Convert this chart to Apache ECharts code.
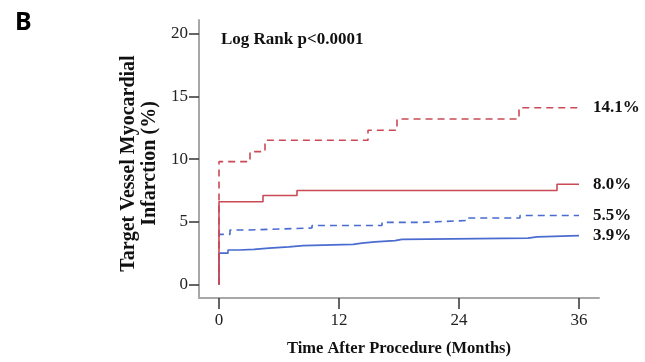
<!DOCTYPE html>
<html>
<head>
<meta charset="utf-8">
<script src="https://cdn.jsdelivr.net/npm/echarts@6/dist/echarts.min.js"></script>
<style>
  html, body {margin: 0; padding: 0; background: #fff;}
  #chart {width: 645px; height: 362px;}
</style>
</head>
<body>
<div id="chart"></div>
<script>
// Kaplan-Meier style cumulative curves (months, %)
var redDashedT = [0, 0, 3.1, 4.6, 14.9, 17.8, 30.0, 36];
var redDashedV = [0, 9.8, 10.6, 11.5, 12.3, 13.2, 14.1, 14.1];

var redSolidT = [0, 0, 4.4, 7.8, 33.8, 36];
var redSolidV = [0, 6.6, 7.1, 7.5, 8.0, 8.0];

var blueDashedT = [0, 0, 1.1, 3.0, 9.3, 16.3, 20.2, 24.7, 30.1, 36];
var blueDashedV = [0, 4.0, 4.35, 4.5, 4.7, 4.95, 5.1, 5.3, 5.5, 5.5];

var blueSolidT = [0, 0, 0.9, 2, 3.5, 5, 7, 8.4, 13.4, 14.3, 15.6, 17.6, 18.3, 30.9, 31.8, 36];
var blueSolidV = [0, 2.5, 2.75, 2.8, 2.9, 3.0, 3.1, 3.2, 3.3, 3.4, 3.5, 3.6, 3.7, 3.8, 3.9, 3.9];

var endLabels = ['3.9%', '5.5%', '14.1%', '8.0%'];
var xTicks = [0, 12, 24, 36];
var yTicks = [0, 5, 10, 15, 20];

var RED = '#c94a55';
var BLUE = '#4a6bd0';
var serif = '"Liberation Serif", "DejaVu Serif", serif';

function pairs(t, v) {
  return t.map(function (x, i) { return [x, v[i]]; });
}

function curve(t, v, color, dashed, label) {
  return {
    type: 'line',
    step: 'end',
    symbol: 'none',
    data: pairs(t, v),
    lineStyle: {color: color, width: 1.6, type: dashed ? [7, 5] : 'solid'},
    endLabel: {
      show: true,
      formatter: label,
      distance: 14,
      color: '#111',
      fontFamily: serif,
      fontWeight: 'bold',
      fontSize: 17
    }
  };
}

var myChart = echarts.init(document.getElementById('chart'));
myChart.setOption({
  animation: false,
  grid: {left: 199, right: 46, top: 20, bottom: 61},
  xAxis: {
    type: 'value',
    min: -2,
    max: 38,
    name: 'Time After Procedure (Months)',
    nameLocation: 'middle',
    nameGap: 42,
    nameTextStyle: {fontFamily: serif, fontWeight: 'bold', fontSize: 16.5, color: '#111'},
    splitLine: {show: false},
    axisLine: {onZero: false, lineStyle: {color: '#a8a8a8', width: 2}},
    axisTick: {customValues: xTicks, length: 11, lineStyle: {color: '#333', width: 1.5}},
    axisLabel: {customValues: xTicks, margin: 14, fontFamily: serif, fontSize: 17, color: '#222'}
  },
  yAxis: {
    type: 'value',
    min: -1.08,
    max: 21.1,
    name: 'Target Vessel Myocardial\nInfarction (%)',
    nameLocation: 'middle',
    nameGap: 34,
    nameTextStyle: {fontFamily: serif, fontWeight: 'bold', fontSize: 20, color: '#111', lineHeight: 21, padding: [0, 9, 0, 0]},
    splitLine: {show: false},
    axisLine: {show: true, onZero: false, lineStyle: {color: '#a8a8a8', width: 2}},
    axisTick: {show: true, customValues: yTicks, length: 10, lineStyle: {color: '#333', width: 1.5}},
    axisLabel: {customValues: yTicks, margin: 11, fontFamily: serif, fontSize: 17, color: '#222'}
  },
  graphic: [
    {type: 'text', left: 15, top: 10, style: {text: 'B', font: 'bold 25px "Noto Sans", sans-serif', fill: '#000'}},
    {type: 'text', left: 221, top: 31, style: {text: 'Log Rank p<0.0001', font: 'bold 17px ' + serif, fill: '#111'}}
  ],
  series: [
    curve(blueSolidT, blueSolidV, BLUE, false, endLabels[0]),
    curve(blueDashedT, blueDashedV, BLUE, true, endLabels[1]),
    curve(redDashedT, redDashedV, RED, true, endLabels[2]),
    curve(redSolidT, redSolidV, RED, false, endLabels[3])
  ]
});
</script>
</body>
</html>
